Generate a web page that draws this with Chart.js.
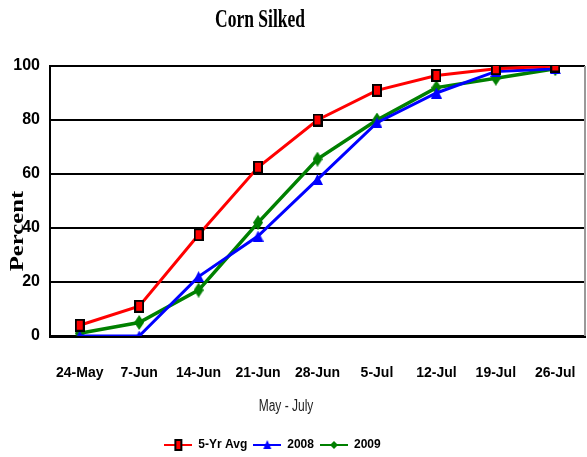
<!DOCTYPE html>
<html lang="en">
<head>
  <meta charset="UTF-8">
  <title>Corn Silked</title>
  <style>
    body { margin: 0; background: #fff; }
    #wrap { width: 587px; height: 457px; }
  </style>
</head>
<body>
  <div id="wrap"><canvas id="silkChart" width="587" height="457"></canvas></div>

  <script src="https://cdn.jsdelivr.net/npm/chart.js"></script>
  <script>
    const weeks = ['24-May', '7-Jun', '14-Jun', '21-Jun', '28-Jun', '5-Jul', '12-Jul', '19-Jul', '26-Jul'];
    const avg5yr = [4, 11, 37.5, 62.5, 80, 91, 96.5, 99, 100];
    const y2008 = [0, 0, 22, 37, 58, 79, 90, 98, 99];
    const y2009 = [1, 5, 17, 42, 65.5, 80, 92, 95.5, 99];
    const yTicks = [0, 20, 40, 60, 80, 100];

    const sans = '"Liberation Sans", Arial, sans-serif';
    const serif = '"Liberation Serif", "Times New Roman", serif';

    // marker images (tall box, triangle, diamond) like the original
    function marker(color, shape) {
      const c = document.createElement('canvas');
      if (shape === 'rect') { c.width = 10; c.height = 13; }
      else if (shape === 'tri') { c.width = 11; c.height = 11; }
      else { c.width = 10; c.height = 15; }
      const g = c.getContext('2d');
      g.fillStyle = color;
      if (shape === 'rect') {
        g.fillStyle = '#000'; g.fillRect(0, 0, 10, 13);
        g.fillStyle = color; g.fillRect(2, 2, 6, 9);
      } else if (shape === 'tri') {
        g.beginPath(); g.moveTo(5.5, 0); g.lineTo(11, 11); g.lineTo(0, 11); g.closePath(); g.fill();
      } else {
        g.beginPath(); g.moveTo(5, 0); g.lineTo(10, 7.5); g.lineTo(5, 15); g.lineTo(0, 7.5); g.closePath(); g.fill();
      }
      return c;
    }

    // legend swatch: line with the marker in the middle
    function swatch(color, shape) {
      const c = document.createElement('canvas');
      c.width = 28; c.height = 14;
      const g = c.getContext('2d');
      g.strokeStyle = color; g.lineWidth = 2;
      g.beginPath(); g.moveTo(0, 7); g.lineTo(28, 7); g.stroke();
      g.fillStyle = color;
      if (shape === 'rect') {
        g.fillStyle = '#000'; g.fillRect(10, 1, 8, 12);
        g.fillStyle = color; g.fillRect(12, 3, 4, 8);
      } else if (shape === 'tri') {
        g.beginPath(); g.moveTo(14, 2); g.lineTo(18, 11); g.lineTo(10, 11); g.closePath(); g.fill();
      } else {
        g.beginPath(); g.moveTo(14, 3); g.lineTo(18, 7); g.lineTo(14, 11); g.lineTo(10, 7); g.closePath(); g.fill();
      }
      return c;
    }

    // condensed text, drawn in the places the original uses
    function condensedText(g, text, x, y, font, sx, rot, color) {
      g.save();
      g.translate(x, y);
      if (rot) g.rotate(rot);
      g.scale(sx, 1);
      g.font = font;
      g.fillStyle = color || '#000';
      g.textAlign = 'center';
      g.textBaseline = 'middle';
      g.fillText(text, 0, 0);
      g.restore();
    }

    const ctx = document.getElementById('silkChart').getContext('2d');
    new Chart(ctx, {
      type: 'line',
      data: {
        labels: weeks,
        datasets: [
          {
            label: '5-Yr Avg',
            data: avg5yr,
            borderColor: '#ff0000',
            backgroundColor: '#ff0000',
            borderWidth: 3,
            pointStyle: marker('#ff0000', 'rect'),
            legendSwatch: swatch('#ff0000', 'rect')
          },
          {
            label: '2008',
            data: y2008,
            borderColor: '#0000ff',
            backgroundColor: '#0000ff',
            borderWidth: 3,
            pointStyle: marker('#0000ff', 'tri'),
            legendSwatch: swatch('#0000ff', 'tri')
          },
          {
            label: '2009',
            data: y2009,
            borderColor: '#008000',
            backgroundColor: '#008000',
            borderWidth: 3.5,
            pointStyle: marker('#008000', 'dia'),
            legendSwatch: swatch('#008000', 'dia')
          }
        ]
      },
      options: {
        responsive: false,
        animation: false,
        layout: { padding: { left: 4, right: 0, top: 66, bottom: 0 } },
        plugins: {
          title: { display: false },
          legend: {
            position: 'bottom',
            labels: {
              color: '#000',
              font: { family: sans, size: 12, weight: 'bold' },
              usePointStyle: true,
              pointStyleWidth: 28,
              boxHeight: 14,
              padding: 6,
              generateLabels(chart) {
                return chart.data.datasets.map((ds, i) => ({
                  text: ds.label,
                  pointStyle: ds.legendSwatch,
                  fillStyle: ds.backgroundColor,
                  strokeStyle: ds.borderColor,
                  lineWidth: 0,
                  hidden: false,
                  datasetIndex: i,
                  fontColor: '#000'
                }));
              }
            }
          },
          tooltip: { enabled: false }
        },
        scales: {
          x: {
            offset: true,
            afterFit(axis) { axis.height = 93; axis.paddingLeft = 0; axis.paddingRight = 0; },
            grid: { display: false, drawTicks: false },
            border: { color: '#000', width: 3 },
            ticks: {
              color: '#000',
              padding: 29,
              maxRotation: 0,
              autoSkip: false,
              font: { family: sans, size: 14, weight: 'bold' }
            }
          },
          y: {
            min: 0,
            max: 100,
            afterBuildTicks(axis) { axis.ticks = yTicks.map(v => ({ value: v })); },
            afterFit(axis) { axis.width = 46; axis.paddingTop = 0; },
            grid: { color: '#000', lineWidth: 2, drawTicks: false },
            border: { color: '#000', width: 2 },
            ticks: {
              color: '#000',
              padding: 10,
              font: { family: sans, size: 16, weight: 'bold' }
            }
          }
        }
      },
      plugins: [{
        id: 'extras',
        afterLayout(chart) {
          // plot area runs almost to the right edge in the original
          const area = chart.chartArea, xs = chart.scales.x;
          area.right = 585;
          area.width = area.right - area.left;
          xs.right = 585;
          xs.width = xs.right - xs.left;
          xs.configure();
          // the original legend sits a little left of centre and lower
          chart.legend.left -= 23;
          chart.legend.right -= 23;
          chart.legend.top += 4;
          chart.legend.bottom += 4;
        },
        afterDraw(chart) {
          const a = chart.chartArea, g = chart.ctx;
          g.save();
          g.strokeStyle = '#999';
          g.lineWidth = 2;
          g.beginPath(); g.moveTo(a.right, a.top); g.lineTo(a.right, a.bottom); g.stroke();
          g.restore();
          condensedText(g, 'Corn Silked', 260, 21, 'bold 25px ' + serif, 0.7, 0);
          condensedText(g, 'Percent', 18, 231, 'bold 19px ' + serif, 1.3, -Math.PI / 2);
          condensedText(g, 'May - July', 286, 407, '16px ' + sans, 0.75, 0, '#222');
        }
      }]
    });
  </script>
</body>
</html>
